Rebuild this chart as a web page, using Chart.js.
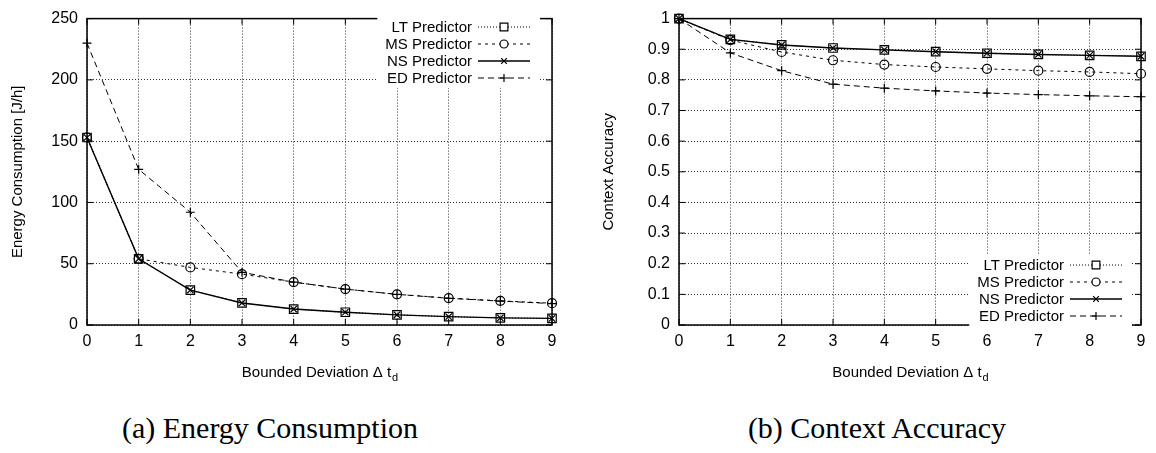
<!DOCTYPE html>
<html>
<head>
<meta charset="utf-8">
<script src="https://cdn.jsdelivr.net/npm/chart.js@4/dist/chart.umd.min.js"></script>
<style>
  body { margin: 0; background: #fff; width: 1156px; height: 453px; position: relative; overflow: hidden; }
  .box { position: absolute; top: 0; width: 578px; height: 385px; }
  .cap { position: absolute; top: 411px; font-family: "Liberation Serif", "DejaVu Serif", serif; font-size: 30px; color: #000; text-align: center; width: 578px; }
</style>
</head>
<body>
<div class="box" style="left:0"><canvas id="energy" width="578" height="385"></canvas></div>
<div class="box" style="left:578px"><canvas id="accuracy" width="578" height="385"></canvas></div>
<div class="cap" style="left:-19px">(a) Energy Consumption</div>
<div class="cap" style="left:588px">(b) Context Accuracy</div>
<script>
// bounded deviation (x axis)
const deviation = [0, 1, 2, 3, 4, 5, 6, 7, 8, 9]
const seriesNames = ["LT Predictor", "MS Predictor", "NS Predictor", "ED Predictor"]

// energy consumption [J/h]
const energyLT = [153, 54, 28.5, 18, 13, 10.4, 8.3, 6.8, 5.8, 5.4]
const energyMS = [153, 54, 47, 41.5, 35, 29.3, 25, 22, 19.7, 17.8]
const energyNS = [153, 54, 28.5, 18, 13, 10.4, 8.3, 6.8, 5.8, 5.4]
const energyED = [230, 127, 92, 43, 35, 29.3, 25, 21.8, 19.5, 17.5]

// context accuracy
const accLT = [1, 0.932, 0.914, 0.904, 0.898, 0.892, 0.887, 0.883, 0.880, 0.877]
const accMS = [1, 0.930, 0.891, 0.864, 0.850, 0.842, 0.836, 0.830, 0.826, 0.820]
const accNS = [1, 0.932, 0.914, 0.904, 0.898, 0.892, 0.887, 0.883, 0.880, 0.877]
const accED = [1, 0.888, 0.830, 0.786, 0.773, 0.764, 0.757, 0.752, 0.748, 0.745]

const styles = [
  { pointStyle: "rect", radius: 6, borderDash: [1, 2], borderWidth: 1 },
  { pointStyle: "circle", radius: 4.5, borderDash: [3, 4], borderWidth: 1 },
  { pointStyle: "crossRot", radius: 4.5, borderDash: [], borderWidth: 1.4 },
  { pointStyle: "cross", radius: 4.5, borderDash: [6, 4], borderWidth: 1 },
]

const sans = "'Liberation Sans', Arial, sans-serif"

function makeDatasets(values) {
  return values.map((vals, i) => ({
    label: seriesNames[i],
    data: vals.map((v, j) => ({ x: deviation[j], y: v })),
    borderColor: "#000",
    backgroundColor: "rgba(0,0,0,0)",
    pointBorderColor: "#000",
    pointBackgroundColor: "rgba(0,0,0,0)",
    pointBorderWidth: 1.2,
    pointRadius: styles[i].radius,
    pointStyle: styles[i].pointStyle,
    borderDash: styles[i].borderDash,
    borderWidth: styles[i].borderWidth,
    tension: 0,
    clip: false,
  }))
}

// frame, inner tick marks, x title with subscript and gnuplot-like key
const gnuplotLook = {
  id: "gnuplotLook",
  afterDraw(chart, args, opts) {
    const { ctx, chartArea: a, scales } = chart
    ctx.save()
    ctx.strokeStyle = "#000"
    ctx.lineWidth = 1.5
    ctx.setLineDash([])
    ctx.strokeRect(a.left, a.top, a.right - a.left, a.bottom - a.top)
    ctx.lineWidth = 1
    ctx.beginPath()
    scales.x.ticks.forEach(t => {
      const px = scales.x.getPixelForValue(t.value)
      ctx.moveTo(px, a.bottom); ctx.lineTo(px, a.bottom - 6)
      ctx.moveTo(px, a.top); ctx.lineTo(px, a.top + 6)
    })
    scales.y.ticks.forEach(t => {
      const py = scales.y.getPixelForValue(t.value)
      ctx.moveTo(a.left, py); ctx.lineTo(a.left + 6, py)
      ctx.moveTo(a.right, py); ctx.lineTo(a.right - 6, py)
    })
    ctx.stroke()

    // x axis title
    ctx.fillStyle = "#000"
    ctx.font = "15px " + sans
    ctx.textBaseline = "alphabetic"
    const main = "Bounded Deviation \u0394 t"
    const wMain = ctx.measureText(main).width
    ctx.font = "11px " + sans
    const wSub = ctx.measureText("d").width
    const cx = (a.left + a.right) / 2
    const x0 = cx - (wMain + wSub) / 2
    ctx.font = "15px " + sans
    ctx.textAlign = "left"
    ctx.fillText(main, x0, 377)
    ctx.font = "11px " + sans
    ctx.fillText("d", x0 + wMain + 1, 381)

    // key with opaque background
    ctx.font = "15px " + sans
    const n = chart.data.datasets.length
    const maxW = Math.max(...chart.data.datasets.map(ds => ctx.measureText(ds.label).width))
    ctx.fillStyle = "#fff"
    ctx.fillRect(opts.keyRight - maxW - 8, opts.keyTop - 10, maxW + 76, (n - 1) * 17 + 20)
    chart.data.datasets.forEach((ds, i) => {
      const y = opts.keyTop + i * 17
      ctx.font = "15px " + sans
      ctx.textAlign = "right"
      ctx.textBaseline = "middle"
      ctx.fillStyle = "#000"
      ctx.fillText(ds.label, opts.keyRight, y + 1)
      ctx.lineWidth = ds.borderWidth
      ctx.setLineDash(ds.borderDash)
      ctx.beginPath()
      ctx.moveTo(opts.keyRight + 6, y)
      ctx.lineTo(opts.keyRight + 58, y)
      ctx.stroke()
      ctx.setLineDash([])
      ctx.lineWidth = 1.2
      ctx.fillStyle = "#fff"
      const r = ds.pointStyle === "rect" ? 5.5 : 4
      Chart.helpers.drawPoint(ctx, { pointStyle: ds.pointStyle, radius: r, rotation: 0, borderWidth: 1.2 }, opts.keyRight + 32, y)
    })
    ctx.restore()
  },
}

function makeChart(id, values, yOpts, yTitle, yWidth, titlePad, keyOpts, padRight) {
  return new Chart(document.getElementById(id), {
    type: "line",
    data: { datasets: makeDatasets(values) },
    plugins: [gnuplotLook],
    options: {
      responsive: false,
      animation: false,
      layout: { padding: { left: 0, right: padRight, top: 11, bottom: 0 } },
      plugins: {
        legend: { display: false },
        tooltip: { enabled: false },
        gnuplotLook: keyOpts,
      },
      scales: {
        x: {
          type: "linear",
          min: 0,
          max: 9,
          ticks: { stepSize: 1, color: "#000", font: { family: sans, size: 16 }, padding: 7 },
          grid: { color: "#333", drawTicks: false },
          border: { display: false, dash: [1, 2] },
          afterFit: s => { s.height = 60 },
        },
        y: {
          min: yOpts.min,
          max: yOpts.max,
          ticks: {
            stepSize: yOpts.step, color: "#000", font: { family: sans, size: 16 }, padding: 9,
            callback: v => String(Math.round(v * 10) / 10),
          },
          grid: { color: "#333", drawTicks: false },
          border: { display: false, dash: [1, 2] },
          title: { display: true, text: yTitle, color: "#000", font: { family: sans, size: 15 }, padding: { top: titlePad, bottom: 0 } },
          afterFit: s => { s.width = yWidth },
        },
      },
    },
  })
}

makeChart("energy", [energyLT, energyMS, energyNS, energyED], { min: 0, max: 250, step: 50 },
  "Energy Consumption [J/h]", 87, 9, { keyRight: 472, keyTop: 27 }, 26)
makeChart("accuracy", [accLT, accMS, accNS, accED], { min: 0, max: 1, step: 0.1 },
  "Context Accuracy", 101, 22, { keyRight: 486, keyTop: 265 }, 15)
</script>
</body>
</html>
